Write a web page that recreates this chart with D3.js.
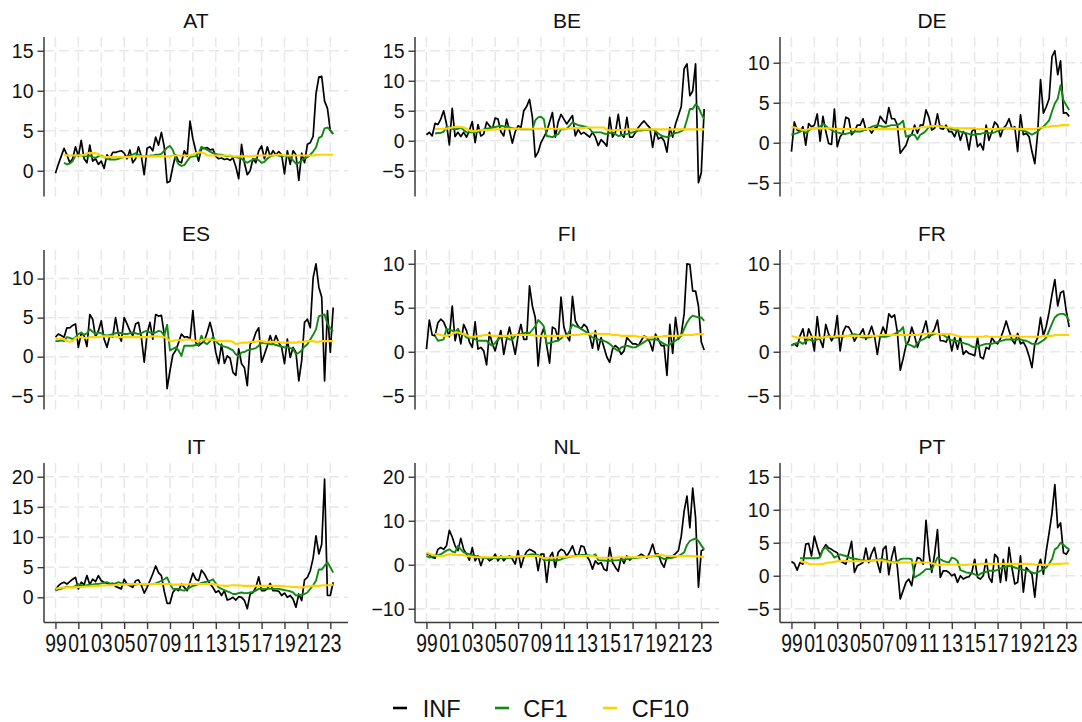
<!DOCTYPE html>
<html><head><meta charset="utf-8">
<script src="https://cdn.jsdelivr.net/npm/d3@7"></script>
<style>
html,body{margin:0;padding:0;background:#fff;}
svg{display:block;font-family:"Liberation Sans",Arial,Helvetica,sans-serif;}
</style></head>
<body><svg id="chart" width="1082" height="722"></svg>
<script>
// ---------------- DATA ----------------
const countries = ["AT","BE","DE","ES","FI","FR","IT","NL","PT"];
const startYear = 1999;               // first quarter = 1999Q1
const cfStartQuarter = [3,3,0,0,3,0,0,0,3];
const xTickYears  = [1999,2001,2003,2005,2007,2009,2011,2013,2015,2017,2019,2021,2023];
const xTickLabels = ["99","01","03","05","07","09","11","13","15","17","19","21","23"];
const yTicks = [
  [0,5,10,15],[-5,0,5,10,15],[-5,0,5,10],
  [-5,0,5,10],[-5,0,5,10],[-5,0,5,10],
  [0,5,10,15,20],[-10,0,10,20],[-5,0,5,10,15]
];
const seriesNames = ["INF","CF1","CF10"];

const INF_AT = [-0.3,0.8,1.8,2.8,2.0,1.0,1.5,3.0,1.8,3.8, 1.5,1.0,3.2,1.2,1.5,0.8,1.2,0.3,2.0,1.5, 2.3,2.3,2.4,2.5,2.2,1.5,2.6,1.0,1.5,3.0, 1.8,-0.5,2.8,3.0,2.5,4.2,3.2,4.8,3.0,-1.5, -1.3,0.5,2.0,1.2,1.0,2.5,1.8,6.2,4.0,2.5, 1.2,2.8,2.8,2.9,2.6,2.7,1.8,1.5,1.6,1.4, 1.5,1.3,1.6,0.5,-1.0,3.3,1.0,-0.5,0.0,1.5, 1.0,2.5,3.1,1.5,3.0,1.8,2.5,2.0,2.4,2.0, -0.4,2.5,0.8,2.5,2.0,-1.2,2.2,1.0,3.3,3.5, 4.3,9.6,11.7,11.8,8.7,7.8,5.0,4.6];
const CF1_AT = [1.0,0.8,0.9,1.2,1.9,2.0,1.9,1.8, 1.8,1.9,1.7,1.6,1.8,1.9,1.7,1.5,1.4,1.4, 1.4,1.5,1.6,1.7,1.8,1.9,2.0,2.2,2.0,1.8, 1.8,1.8,1.9,1.9,2.0,2.0,2.1,2.5,2.9,3.1, 2.6,1.5,0.8,0.6,0.7,1.2,1.7,1.8,1.8,2.2, 3.0,2.8,2.6,2.4,2.2,2.1,2.0,2.0,1.9,1.8, 1.9,1.7,1.7,1.6,1.5,1.2,1.0,1.2,1.4,1.5, 1.3,1.0,1.1,1.5,1.8,1.9,2.0,1.9,1.8,1.9, 1.8,1.7,1.3,0.9,1.0,1.3,1.5,1.7,2.0,2.4, 2.9,4.1,4.3,5.3,5.4,5.1,4.6];
const CF10_AT = [2.0,1.9,1.9,1.9,1.9,1.9,1.9,2.0, 2.2,2.2,2.2,2.2,2.1,1.8,1.7,1.7,1.7,1.7, 1.7,1.7,1.7,1.7,1.7,1.7,1.8,1.8,1.8,1.8, 1.8,1.8,1.8,1.8,1.8,1.8,1.8,1.8,1.8,1.8, 1.9,1.9,1.9,1.9,1.9,1.9,1.9,2.0,2.2,2.3, 2.3,2.2,1.9,1.9,1.9,1.9,1.9,1.9,1.9,1.9, 1.9,1.8,1.8,1.8,1.8,1.8,1.8,1.8,1.8,1.9, 1.9,1.9,1.9,1.9,1.9,1.9,2.0,2.0,2.0,1.9, 1.9,1.9,1.9,1.9,1.9,1.9,1.9,1.9,1.9,1.9, 2.0,2.0,2.0,2.0,2.0,2.0,2.0];

const INF_BE = [1.0,1.4,0.8,2.9,2.7,3.6,5.0,2.8,-0.7,5.4, 0.7,1.4,0.7,1.4,0.6,1.7,3.2,-0.3,2.7,0.8, 1.1,3.1,2.5,1.9,3.8,3.6,1.5,0.8,3.6,1.7, -0.4,1.5,2.5,2.2,5.0,5.7,6.9,3.9,-2.7,-1.9, -0.3,0.6,1.5,3.1,4.7,0.6,3.1,4.4,3.6,2.8, 3.5,4.2,0.8,1.9,1.1,1.4,1.0,0.6,1.4,0.6, -0.8,0.2,-0.3,-0.9,3.9,0.6,1.4,4.4,1.1,0.6, 3.9,0.6,0.6,1.4,2.2,2.8,3.3,2.7,2.2,-1.1, 1.7,0.3,0.6,0.0,-1.9,2.2,0.6,2.8,4.2,5.7, 12.0,12.8,7.5,8.3,12.8,-7.0,-5.3,5.3];
const CF1_BE = [1.2,1.3,1.3,1.5,2.3,2.2,2.0,1.9, 2.0,2.2,1.8,1.4,1.4,1.4,1.4,1.5,1.7,1.9, 2.0,2.1,2.2,2.3,2.4,2.5,2.4,2.3,2.2,2.1, 2.0,2.0,1.9,1.9,1.9,1.9,1.9,3.4,3.9,4.0, 3.6,0.8,0.7,0.6,0.9,1.1,1.9,1.9,2.0,2.5, 3.1,2.8,2.6,2.5,2.4,2.3,2.0,1.4,1.4,1.4, 1.4,1.2,1.1,1.3,1.4,1.1,0.8,0.9,1.0,1.1, 1.3,1.4,1.5,1.7,1.7,1.8,1.8,1.9,1.9,1.6, 1.2,0.9,0.7,0.6,0.8,1.1,1.3,1.4,1.6,1.9, 3.5,5.3,5.3,6.1,5.6,4.5,3.6];
const CF10_BE = [2.0,2.0,2.0,2.0,2.0,2.1,2.2,2.3, 2.3,2.3,2.2,2.0,1.7,1.6,1.6,1.7,1.8,1.8, 1.8,1.8,1.9,1.9,1.9,2.0,2.0,2.0,2.0,2.0, 2.0,2.0,2.0,2.0,2.0,2.0,2.0,2.0,2.0,2.0, 2.0,2.0,2.0,2.0,2.0,2.0,2.0,2.0,2.0,2.0, 2.1,2.1,2.1,2.1,2.1,2.2,2.2,2.2,2.2,2.2, 2.2,2.2,1.8,1.7,1.7,1.8,1.8,1.8,1.8,1.9, 1.9,1.9,1.9,1.9,1.9,1.9,1.9,1.9,1.9,1.9, 1.9,1.9,1.9,1.9,1.9,1.9,1.9,1.9,1.9,1.9, 1.9,1.9,1.9,1.9,1.9,1.9,1.9];

const INF_DE = [-1.1,2.6,1.6,1.4,2.0,-0.3,2.4,2.0,2.2,3.6, 0.2,3.3,1.4,-0.1,-0.2,4.2,-0.5,0.75,1.2,3.2, 3.0,1.0,1.4,2.2,2.2,3.0,1.6,1.8,1.2,1.8, 2.0,3.3,2.8,2.4,4.4,3.0,3.0,2.2,-1.3,-0.8, -0.3,0.75,1.0,2.2,1.2,2.2,2.2,4.1,3.2,1.6, 1.8,3.6,1.8,1.7,2.2,1.4,1.4,0.75,1.8,0.3, 1.4,1.0,-0.9,1.4,1.8,-0.5,-0.1,-0.9,2.2,0.3, 1.4,2.6,2.2,0.75,1.8,2.2,3.0,1.8,2.0,-1.1, 3.5,1.0,1.2,0.75,-1.1,-2.6,1.2,7.9,3.7,4.5, 5.5,10.75,11.5,8.5,10.25,3.7,3.75,3.3];
const CF1_DE = [1.0,1.1,1.2,1.4,1.6,1.2,1.5,1.8,1.8,1.8, 2.0,2.4,2.1,1.8,1.6,1.4,1.3,1.2,1.1,1.1, 1.2,1.3,1.4,1.4,1.4,1.5,1.7,1.8,2.0,2.1, 2.2,2.1,2.0,2.0,2.1,2.2,2.2,2.2,2.4,2.75, 0.75,0.9,1.0,1.0,0.4,1.0,1.2,1.5,2.0,2.0, 2.1,2.1,2.1,2.0,1.9,1.8,1.7,1.6,1.5,1.4, 1.3,1.2,1.1,1.0,1.0,1.1,1.1,1.2,1.2,1.2, 1.2,1.3,1.5,1.6,1.7,1.8,1.8,1.8,1.7,1.7, 1.6,1.5,1.4,1.2,1.0,1.2,1.4,1.8,2.0,2.4, 2.8,3.9,4.9,5.5,7.2,5.3,4.7,4.1];
const CF10_DE = [2.0,1.9,1.8,1.7,1.6,1.6,1.7,1.8,1.8,1.8, 1.8,1.8,1.8,1.8,1.8,1.7,1.7,1.7,1.7,1.7, 1.7,1.7,1.7,1.7,1.7,1.7,1.7,1.7,1.7,1.7, 1.7,1.7,1.7,1.7,1.7,1.7,1.7,1.7,1.7,1.7, 1.7,1.7,1.7,1.8,1.8,1.9,1.9,2.0,2.0,2.1, 2.1,2.1,2.0,2.0,1.9,1.9,1.9,1.8,1.8,1.8, 1.8,1.8,1.8,1.8,1.8,1.7,1.7,1.7,1.7,1.7, 1.7,1.7,1.7,1.8,1.8,1.8,1.8,1.8,1.8,1.7, 1.7,1.7,1.7,1.7,1.7,1.7,1.8,1.9,1.9,2.0, 2.0,2.1,2.1,2.1,2.2,2.2,2.2,2.2];

const INF_ES = [2.5,2.9,2.7,2.5,3.7,3.7,4.0,4.2,1.2,3.0, 2.7,1.3,5.4,4.8,2.55,3.3,4.6,2.25,1.2,2.7, 2.5,5.0,2.9,2.0,5.0,4.2,3.3,2.7,4.2,4.4, 2.5,-0.7,2.9,4.4,2.25,5.4,5.2,5.3,2.9,-4.1, -1.8,0.25,0.8,1.8,2.9,2.5,2.55,2.25,5.9,1.8, 1.4,1.7,2.0,3.1,4.4,2.9,0.55,-0.9,1.6,-0.85, 0.1,-0.2,-2.0,-2.4,1.0,-0.9,-1.4,-3.7,1.6,2.0, 3.1,3.7,-0.7,0.3,1.4,2.7,1.6,2.7,1.8,1.2, -0.9,2.25,-0.1,1.2,0.55,-3.1,-0.5,4.4,4.8,3.7, 10.1,11.9,8.9,7.6,-3.1,5.9,0.55,6.3];
const CF1_ES = [2.0,2.0,2.1,2.0,2.5,2.4,2.25,2.5,2.9,3.1, 2.8,3.0,3.5,3.2,2.9,3.1,3.0,2.8,2.7,2.8, 2.9,3.0,3.1,3.0,2.9,2.9,3.0,3.1,3.0,2.9, 3.0,3.2,3.3,3.1,3.0,3.1,3.3,3.2,2.7,4.1, 0.8,1.0,1.2,0.8,0.1,1.4,1.4,1.4,1.4,1.5, 1.5,2.7,1.8,1.6,2.0,2.5,2.0,1.6,1.4,1.3, 1.2,1.0,0.8,0.3,0.0,0.55,0.6,0.8,0.9,1.0, 1.1,1.4,1.8,1.7,1.7,1.6,1.6,1.5,1.4,1.3, 1.2,1.2,1.1,1.0,0.3,0.5,0.8,1.3,1.6,2.2, 2.8,3.5,5.2,5.3,5.4,4.2,3.6,3.3];
const CF10_ES = [2.25,2.3,2.3,2.2,2.0,1.9,2.0,2.4,2.5,2.5, 2.4,2.4,2.5,2.5,2.5,2.5,2.6,2.6,2.6,2.6, 2.6,2.6,2.5,2.5,2.5,2.5,2.5,2.5,2.5,2.5, 2.5,2.5,2.5,2.6,2.6,2.6,2.6,2.55,2.5,2.3, 2.0,2.0,2.1,2.1,2.1,2.2,2.2,2.2,2.1,2.0, 2.0,2.1,2.2,2.25,2.2,2.1,2.1,2.0,2.0,2.0, 2.0,2.0,1.9,1.6,1.7,1.8,1.8,1.8,1.9,1.9, 1.9,2.0,2.0,1.9,1.9,1.9,1.9,1.9,1.9,1.8, 1.8,1.8,1.8,1.8,1.8,1.9,1.9,1.9,2.0,2.0, 2.0,1.9,1.9,2.0,2.0,2.0,2.0,2.0];

const INF_FI = [0.3,3.6,1.9,1.8,3.3,3.7,3.4,2.6,1.7,5.2, 1.25,2.6,0.9,3.1,2.4,1.1,0.5,3.4,0.3,0.5, 0.1,-1.5,2.2,0.9,0.1,1.4,2.4,-0.3,1.4,2.8, 1.25,-0.3,1.8,3.1,1.4,1.4,7.5,5.2,3.9,-1.6, 1.8,2.7,0.7,-1.3,2.8,2.6,1.4,6.2,2.8,1.8, 1.25,6.3,3.5,2.9,2.6,3.1,2.8,1.8,0.4,2.4, 0.2,1.6,0.5,-0.6,-1.2,0.3,0.7,0.4,-0.3,0.1, 1.6,1.25,0.9,0.9,0.7,1.25,1.8,1.6,1.1,0.1, 2.0,1.4,0.7,0.7,-2.7,3.1,-0.2,3.9,1.4,2.0, 4.3,10.0,9.9,6.9,6.9,5.2,1.1,0.2];
const CF1_FI = [1.8,1.25,1.3,1.4,2.6,2.5,2.4,2.2, 2.6,2.0,2.0,1.6,1.6,1.6,1.4,1.25,1.25,1.25, 1.25,0.9,0.7,1.0,1.4,1.6,1.8,1.6,1.4,1.4, 1.8,2.0,2.0,2.1,2.2,2.1,2.5,2.9,3.6,3.3, 2.9,0.9,1.0,1.1,1.2,1.25,1.5,1.8,1.8,2.4, 3.1,2.9,2.8,2.6,2.4,2.2,1.9,1.6,1.5,1.4, 1.3,1.25,1.1,0.9,0.6,0.3,0.1,0.5,0.6,0.7, 0.6,0.5,0.5,0.7,0.9,1.1,1.3,1.4,1.4,1.4, 1.3,1.1,0.9,0.7,0.8,1.1,1.25,1.5,1.8,2.6, 3.3,3.8,4.1,4.0,3.9,3.9,3.5];
const CF10_FI = [2.0,2.0,1.9,1.8,1.8,1.9,2.0,2.2, 2.2,2.1,2.0,1.9,1.7,1.7,1.7,1.8,1.8,1.9, 1.9,1.9,1.8,1.8,1.8,1.8,1.8,1.8,1.8,1.9, 1.9,1.9,1.9,1.9,1.9,1.9,1.9,1.8,1.8,1.8, 1.8,1.8,1.8,1.8,1.8,1.8,1.8,1.8,1.8,1.9, 1.9,1.9,1.9,2.0,2.0,2.0,2.0,2.1,2.1,2.0, 2.0,2.0,2.0,2.0,1.9,1.9,1.9,1.8,1.8,1.8, 1.8,1.8,1.8,1.7,1.7,1.7,1.6,1.6,1.7,1.7, 1.7,1.7,1.8,1.8,1.8,1.8,1.8,1.8,1.9,1.9, 1.9,1.9,1.9,2.0,2.0,2.0,2.0];

const INF_FR = [0.7,0.9,0.6,1.8,2.6,0.9,2.6,1.8,0.1,4.0, 1.4,0.5,3.1,2.0,1.25,1.8,4.1,0.1,2.2,2.9, 2.8,2.2,1.2,1.8,2.0,2.6,1.4,2.0,2.9,1.8, -0.3,1.8,2.8,2.0,4.3,3.9,4.2,2.2,-2.1,-0.8, 0.7,1.25,2.8,1.8,0.5,1.5,2.4,3.5,1.6,2.0, 2.6,3.6,1.25,1.25,1.1,1.8,0.1,1.6,0.3,1.7, -0.3,0.1,-0.2,-0.3,-0.45,1.6,-0.6,-0.8,0.5,0.3, 1.6,1.1,0.9,1.5,2.4,3.5,2.4,1.4,0.9,2.1, 0.9,1.1,0.5,-0.5,-1.8,0.9,1.6,3.9,1.8,2.9, 4.5,6.5,8.2,5.2,6.7,6.9,4.6,2.8];
const CF1_FR = [0.7,0.9,1.0,1.1,0.9,1.2,1.4,1.3,1.25,1.4, 1.5,1.6,1.7,1.8,1.7,1.6,1.6,1.7,1.7,1.8, 1.8,1.9,2.0,1.9,1.7,1.6,1.6,1.6,1.7,1.8, 1.8,1.7,1.7,1.7,1.8,1.9,2.0,2.2,2.4,2.8, 0.9,0.8,0.7,0.5,1.0,1.25,1.4,1.6,1.8,1.9, 2.0,2.0,2.0,1.9,1.7,1.4,1.3,1.25,1.2,1.1, 1.0,0.9,0.8,0.6,0.5,0.6,0.7,0.8,0.9,0.9, 0.9,1.0,1.1,1.2,1.3,1.4,1.4,1.4,1.4,1.4, 1.4,1.3,1.25,1.1,0.9,0.9,0.9,1.1,1.3,1.6, 2.4,3.2,3.9,4.2,4.3,4.3,4.1,3.5];
const CF10_FR = [1.8,1.7,1.6,1.6,1.6,1.6,1.6,1.7,1.7,1.6, 1.6,1.6,1.7,1.7,1.7,1.7,1.8,1.8,1.8,1.8, 1.8,1.8,1.8,1.8,1.8,1.8,1.8,1.8,1.8,1.8, 1.8,1.9,1.9,1.9,1.9,1.9,1.9,1.9,1.9,1.9, 1.9,1.9,1.9,1.9,1.9,2.0,2.0,2.0,2.1,2.1, 2.1,2.0,2.0,2.0,2.0,2.0,2.0,1.9,1.8,1.7, 1.7,1.7,1.7,1.7,1.7,1.7,1.7,1.7,1.8,1.7, 1.7,1.7,1.7,1.7,1.7,1.7,1.8,1.8,1.8,1.8, 1.7,1.7,1.7,1.7,1.7,1.7,1.7,1.7,1.8,1.8, 1.8,1.8,1.9,1.9,1.9,1.9,1.9,1.9];

const INF_IT = [1.2,1.9,2.3,2.5,2.2,2.6,3.0,3.3,1.4,2.5, 2.1,3.6,2.1,3.0,2.6,3.6,2.75,2.5,2.3,2.2, 2.3,1.8,1.6,1.4,3.0,2.2,1.9,1.65,2.75,2.9, 2.0,0.7,1.65,2.75,3.9,5.2,4.1,3.6,1.0,-1.0, -1.0,0.8,1.4,1.1,2.2,1.65,1.1,2.5,4.0,3.0, 2.75,4.5,3.9,3.0,2.2,1.65,0.8,1.1,0.3,1.1, -0.45,-0.3,0.0,-0.45,0.1,0.0,-0.5,-1.9,0.55,0.8, 1.65,3.4,1.1,1.1,1.4,2.3,1.1,1.1,1.0,0.3, 0.7,0.0,0.3,-0.3,-1.65,0.55,-0.55,2.9,3.3,4.4, 6.5,10.2,7.2,8.8,19.6,0.3,0.3,2.5];
const CF1_IT = [1.1,1.3,1.4,1.6,1.75,1.7,1.65,1.9,2.2,2.0, 1.9,2.0,2.1,2.1,2.2,2.2,2.3,2.4,2.5,2.3, 2.2,2.3,2.5,2.3,2.2,2.2,2.1,2.1,2.1,2.2, 2.2,2.1,2.1,2.2,2.2,2.3,2.5,2.75,3.0,3.3, 2.2,1.4,1.4,1.4,1.2,1.1,1.4,1.65,1.9,2.0, 2.2,2.4,2.5,2.6,2.75,3.0,2.3,1.65,1.4,1.2, 1.0,0.8,0.55,0.55,0.7,0.8,0.7,0.7,0.8,0.9, 1.1,1.4,1.4,1.4,1.4,1.4,1.4,1.4,1.4,1.3, 1.2,1.1,1.0,0.8,0.3,0.4,0.45,0.55,0.8,1.4, 2.0,2.75,4.6,4.6,5.2,5.8,5.0,4.1];
const CF10_IT = [1.4,1.5,1.6,1.6,1.65,1.65,1.65,1.65,1.7,1.7, 1.75,1.8,1.8,1.85,1.9,1.9,1.95,1.95,2.0,2.0, 2.0,2.05,2.05,2.1,2.1,2.15,2.15,2.2,2.2,2.2, 2.2,2.2,2.2,2.2,2.2,2.2,2.2,2.2,2.2,2.2, 2.2,2.1,2.1,2.1,2.1,2.1,2.1,2.2,2.2,2.2, 2.2,2.2,2.2,2.2,2.2,2.2,2.1,2.0,1.95,1.9, 1.9,1.95,2.0,2.0,1.95,1.95,1.9,1.9,1.9,1.9, 1.9,1.9,1.9,1.9,1.9,1.9,1.9,1.9,1.9,1.85, 1.8,1.8,1.75,1.7,1.7,1.65,1.65,1.7,1.8,1.85, 1.9,1.9,1.9,1.95,2.0,2.0,2.05,2.1];

const INF_NL = [2.55,2.25,1.65,1.5,3.5,3.9,3.5,4.3,7.8,6.3, 4.3,3.2,6.0,3.5,2.4,1.05,3.9,0.9,2.0,-0.2, 1.65,1.65,0.9,1.3,2.4,0.9,2.0,0.9,1.65,2.0, 1.3,0.15,3.2,-0.6,1.65,3.0,3.5,3.2,2.8,-1.35, 2.4,2.4,-4.0,1.65,2.8,-0.6,2.8,3.5,3.2,2.0, 3.0,4.3,2.4,2.0,4.3,4.1,2.0,0.9,-1.0,0.9, 0.15,0.5,-1.0,-1.35,3.9,0.5,-0.6,-1.5,1.65,0.3, 2.0,1.05,1.65,1.65,1.9,2.4,2.0,1.5,2.8,4.7, 2.4,2.4,0.5,-0.6,1.8,1.65,2.0,2.55,3.2,6.5, 12.2,15.6,8.4,17.4,10.7,-5.1,3.2,3.5];
const CF1_NL = [2.0,1.65,1.8,2.0,2.2,2.4,2.8,3.2,3.5,3.0, 2.8,4.3,3.5,2.8,2.6,2.4,2.2,2.0,1.8,1.65, 1.6,1.55,1.5,1.5,1.5,1.5,1.5,1.5,1.55,1.6, 1.65,1.7,1.8,1.9,2.0,2.1,2.3,2.4,2.3,2.25, 1.8,1.05,1.05,1.05,1.05,1.05,1.05,1.2,1.5,1.65, 1.8,1.9,2.0,2.1,2.2,2.25,2.2,2.1,2.0,2.4, 1.05,1.0,0.95,0.9,0.9,0.95,1.0,1.05,1.1,1.2, 1.3,1.4,1.5,1.6,1.65,1.7,1.75,1.8,1.85,1.9, 2.0,2.0,1.6,1.3,1.4,1.5,1.6,1.8,2.0,2.4, 2.8,4.5,5.4,5.7,6.0,5.4,4.4,3.5];
const CF10_NL = [2.8,2.5,2.25,2.1,2.0,2.0,2.0,2.2,2.4,2.3, 2.3,2.2,2.2,2.2,2.0,1.9,1.8,1.7,1.7,1.7, 1.7,1.7,1.7,1.7,1.7,1.7,1.8,1.8,1.8,1.8, 1.8,1.8,1.9,1.9,2.0,2.0,2.0,2.0,2.0,2.0, 1.7,1.5,1.5,1.6,1.6,1.6,1.7,1.8,1.8,1.8, 1.9,1.9,1.9,2.0,2.0,2.0,2.0,2.0,2.0,1.8, 1.65,1.6,1.6,1.6,1.6,1.6,1.6,1.7,1.7,1.7, 1.7,1.7,1.7,1.8,1.8,1.8,1.8,1.8,1.9,2.0, 2.1,2.2,2.25,2.1,2.0,2.0,2.0,2.0,2.0,2.0, 2.0,2.0,2.0,2.0,1.9,1.9,1.8,1.8];

const INF_PT = [2.15,1.85,0.85,2.0,1.75,4.8,4.9,3.0,6.0,4.4, 3.0,4.0,4.7,4.2,4.0,3.7,3.5,2.25,2.0,1.75, 3.4,5.2,0.5,1.5,1.75,2.0,4.2,2.0,3.4,4.3, 2.0,0.5,4.0,4.5,0.15,2.75,4.4,1.25,-3.5,-2.25, -1.0,-0.5,-1.5,1.25,2.75,2.6,1.75,8.4,3.5,0.5, 3.25,7.0,-0.25,0.75,0.75,0.5,0.0,0.25,-1.0,0.0, -0.5,-0.25,-0.15,0.5,2.5,-0.25,-0.5,0.0,2.5,-0.25, -1.0,3.25,2.75,-1.0,2.5,-0.75,4.3,1.25,-1.25,-1.0, 3.0,-2.5,1.25,0.75,0.25,-3.25,1.25,2.5,0.25,3.75, 6.5,9.5,13.8,7.3,8.0,3.5,3.25,4.0];
const CF1_PT = [2.65,2.65,2.65,2.65,2.65,2.65,2.65,2.8, 4.0,4.3,3.75,3.4,2.75,3.0,3.25,3.1,3.0,2.8, 2.65,2.6,2.5,2.4,2.35,2.3,2.25,2.3,2.35,2.4, 2.5,2.5,2.4,2.25,2.1,2.0,2.2,2.5,2.6,2.6, 2.6,2.5,-0.25,0.0,0.25,0.6,1.0,1.0,1.0,1.8, 2.75,2.5,2.25,2.1,2.0,2.75,2.6,2.25,0.85,0.7, 0.5,0.45,0.35,0.2,0.0,0.3,0.5,0.6,0.75,0.75, 0.75,0.9,1.1,1.25,1.4,1.5,1.4,1.25,1.1,1.0, 0.9,0.8,0.75,0.5,0.35,0.5,0.75,1.0,1.25,1.8, 2.5,4.0,4.3,5.0,4.7,4.3,4.0];
const CF10_PT = [2.25,2.1,2.0,1.8,1.75,1.75,1.75,1.75, 1.8,1.9,2.0,2.0,2.1,2.2,2.25,2.25,2.25,2.2, 2.2,2.2,2.2,2.2,2.2,2.2,2.25,2.3,2.35,2.35, 2.35,2.3,2.2,2.1,2.0,2.0,2.0,2.0,2.0,2.0, 2.0,2.0,2.0,2.0,2.0,2.0,2.0,2.0,1.9,1.8, 1.65,1.65,1.7,1.7,1.7,1.7,1.7,1.7,1.65,1.65, 1.65,1.7,1.7,1.75,1.75,1.8,1.8,1.8,1.8,1.8, 1.8,1.8,1.8,1.8,1.8,1.8,1.8,1.8,1.8,1.8, 1.8,1.8,1.8,1.75,1.7,1.7,1.65,1.65,1.65,1.7, 1.75,1.8,1.8,1.8,1.85,1.85,1.85];

const INF  = [INF_AT, INF_BE, INF_DE, INF_ES, INF_FI, INF_FR, INF_IT, INF_NL, INF_PT];
const CF1  = [CF1_AT, CF1_BE, CF1_DE, CF1_ES, CF1_FI, CF1_FR, CF1_IT, CF1_NL, CF1_PT];
const CF10 = [CF10_AT, CF10_BE, CF10_DE, CF10_ES, CF10_FI, CF10_FR, CF10_IT, CF10_NL, CF10_PT];

// ---------------- LAYOUT / STYLE ----------------
const colX = [44, 415, 780];
const rowY = [37, 250, 463];
const plotW = 304, plotH = 159.5, padY = 13.75;
const xDomain = [1998.0, 2024.545];
const colors = {INF:"#000000", CF1:"#128a12", CF10:"#ffd200"};
const widths = {INF:1.7, CF1:1.9, CF10:2.1};
const gridColor = "#e8e8e8", axisColor = "#3a3a3a";
const fontFam = '"Liberation Sans", Arial, sans-serif';

const svg = d3.select("#chart");
svg.append("rect").attr("width",1082).attr("height",722).attr("fill","#fff");

countries.forEach((c, i) => {
  const col = i % 3, row = Math.floor(i / 3);
  const x0 = colX[col], y0 = rowY[row];
  const g = svg.append("g");
  const toPts = (arr, start) => arr.map((v, k) => ({t: startYear + (start + k) / 4, v}));
  const inf = toPts(INF[i], 0), cf1 = toPts(CF1[i], cfStartQuarter[i]), cf10 = toPts(CF10[i], cfStartQuarter[i]);
  const all = [...INF[i], ...CF1[i], ...CF10[i]];
  const ticks = yTicks[i];
  const lo = Math.min(ticks[0], d3.min(all)), hi = Math.max(ticks[ticks.length-1], d3.max(all));
  const x = d3.scaleLinear().domain(xDomain).range([x0, x0 + plotW]);
  const y = d3.scaleLinear().domain([lo, hi]).range([y0 + plotH - padY, y0 + padY]);

  // grid
  g.append("g").selectAll("line").data(ticks).join("line")
    .attr("x1", x0).attr("x2", x0 + plotW).attr("y1", d => y(d)).attr("y2", d => y(d))
    .attr("stroke", gridColor).attr("stroke-width", 1.5).attr("stroke-dasharray", "10,5");
  g.append("g").selectAll("line").data(xTickYears).join("line")
    .attr("x1", d => x(d)).attr("x2", d => x(d)).attr("y1", y0).attr("y2", y0 + plotH)
    .attr("stroke", gridColor).attr("stroke-width", 1.5).attr("stroke-dasharray", "10,5");

  // y axis
  const yAxis = d3.axisLeft(y).tickValues(ticks).tickSize(6.5).tickPadding(4)
    .tickFormat(d => d < 0 ? "\u2212" + Math.abs(d) : String(d));
  const ya = g.append("g").attr("transform", `translate(${x0},0)`).call(yAxis);
  ya.select(".domain").remove();
  ya.selectAll(".tick line").attr("stroke", axisColor).attr("stroke-width", 1.4);
  ya.selectAll(".tick text").attr("fill", "#111").style("font-size", "19.5px")
    .style("font-family", fontFam);
  ya.append("line").attr("x1", 0).attr("x2", 0).attr("y1", y0).attr("y2", y0 + plotH)
    .attr("stroke", axisColor).attr("stroke-width", 1.5);

  // x axis (bottom row only) - tall condensed labels: normal width, stretched vertically
  if (row === 2) {
    const xAxis = d3.axisBottom(x).tickValues(xTickYears).tickSize(6.5).tickPadding(3)
      .tickFormat((d, k) => xTickLabels[k]);
    const xa = g.append("g").attr("transform", `translate(0,${y0 + plotH})`).call(xAxis);
    xa.select(".domain").remove();
    xa.append("line").attr("x1", x0).attr("x2", x0 + plotW).attr("y1", 0).attr("y2", 0)
      .attr("stroke", axisColor).attr("stroke-width", 1.5);
    xa.selectAll(".tick line").attr("stroke", axisColor).attr("stroke-width", 1.4);
    xa.selectAll(".tick text").attr("fill", "#111").attr("dy", null).attr("y", null)
      .attr("transform", "translate(0,29.5) scale(1,1.3)")
      .style("font-size", "19.3px").style("font-family", fontFam);
  }

  // lines
  const line = d3.line().x(d => x(d.t)).y(d => y(d.v));
  [["INF", inf], ["CF1", cf1], ["CF10", cf10]].forEach(([name, pts]) => {
    g.append("path").datum(pts).attr("d", line).attr("fill", "none")
      .attr("stroke", colors[name]).attr("stroke-width", widths[name])
      .attr("stroke-linejoin", "round");
  });

  // title
  g.append("text").attr("x", x0 + plotW / 2).attr("y", y0 - 9).attr("text-anchor", "middle")
    .attr("fill", "#111").style("font-size", "21px").style("font-family", fontFam).text(c);
});

// legend
const legendSym = [393, 495, 603];
const legendTxt = [422.7, 523.3, 631.7];
const lg = svg.append("g");
seriesNames.forEach((n, k) => {
  lg.append("line").attr("x1", legendSym[k]).attr("x2", legendSym[k] + 14)
    .attr("y1", 708).attr("y2", 708).attr("stroke", colors[n]).attr("stroke-width", 2.6);
  lg.append("text").attr("x", legendTxt[k]).attr("y", 717).attr("fill", "#111")
    .style("font-size", "23.5px").style("font-family", fontFam).text(n);
});
</script></body></html>
